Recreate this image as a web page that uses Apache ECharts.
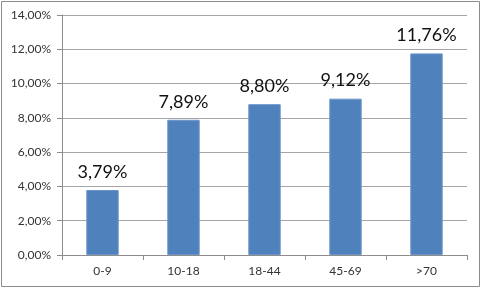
<!DOCTYPE html>
<html><head><meta charset="utf-8">
<script src="https://cdn.jsdelivr.net/npm/echarts@6/dist/echarts.min.js"></script>
<style>html,body{margin:0;padding:0;background:#fff}#c{width:483px;height:290px}</style>
</head><body><div id="c"></div>
<script>
const categories = ['0-9', '10-18', '18-44', '45-69', '>70'];
const values = [3.79, 7.89, 8.80, 9.12, 11.76];
const yMin = 0, yMax = 14, yStep = 2;
const fmt = v => v.toFixed(2).replace('.', ',') + '%';
const chart = echarts.init(document.getElementById('c'), null, {renderer: 'canvas'});
chart.setOption({
  animation: false,
  backgroundColor: '#fff',
  textStyle: {fontFamily: 'Lato'},
  graphic: [{type: 'rect', shape: {x: 1.5, y: 1.5, width: 478, height: 285}, style: {fill: null, stroke: '#8c8c8c', lineWidth: 1}, silent: true, z: 100}],
  grid: {left: 62, right: 16, top: 15, bottom: 35},
  xAxis: {
    type: 'category', data: categories,
    axisLine: {lineStyle: {color: '#8c8c8c'}},
    axisTick: {show: true, length: 5, lineStyle: {color: '#8c8c8c'}},
    axisLabel: {color: '#333', fontSize: 12, margin: 10, fontFamily: 'Lato'}
  },
  yAxis: {
    type: 'value', min: yMin, max: yMax, interval: yStep,
    axisLine: {show: true, lineStyle: {color: '#8c8c8c'}},
    axisTick: {show: true, length: 5, lineStyle: {color: '#8c8c8c'}},
    splitLine: {lineStyle: {color: '#a6a6a6'}},
    axisLabel: {color: '#333', fontSize: 12, margin: 11, fontFamily: 'Lato', formatter: v => fmt(v)}
  },
  series: [{
    type: 'bar', data: values, barWidth: '40%',
    itemStyle: {color: '#4F81BD', borderColor: '#6b95c9', borderWidth: 1},
    label: {show: true, position: 'top', distance: 9, fontSize: 18, color: '#111', fontFamily: 'Lato', formatter: p => fmt(p.value)}
  }]
});
</script></body></html>
